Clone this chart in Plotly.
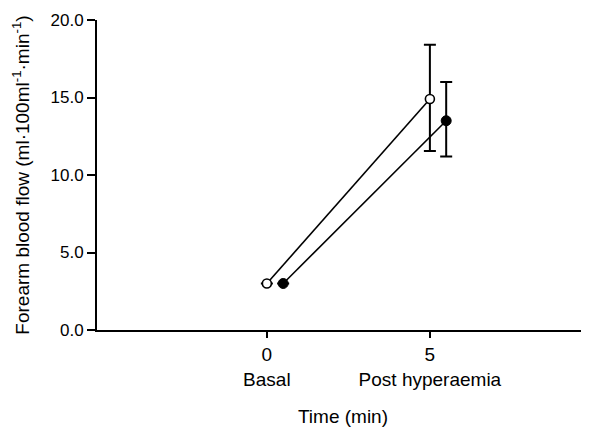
import plotly.graph_objects as go

# Data
open_x = [0, 5]
open_y = [3.0, 14.9]
open_err_plus = [0.0, 3.5]
open_err_minus = [0.0, 3.35]

filled_x = [0.5, 5.5]
filled_y = [3.0, 13.5]
filled_err_plus = [0.0, 2.5]
filled_err_minus = [0.0, 2.3]

tick_vals = [0, 5]
tick_text = ["0<br>Basal", "5<br>Post hyperaemia"]
y_ticks = [0, 5, 10, 15, 20]

FONT = "Liberation Sans, Arial, sans-serif"

fig = go.Figure()

fig.add_trace(go.Scatter(
    x=open_x, y=open_y, mode="lines+markers",
    line=dict(color="black", width=1.6),
    marker=dict(symbol="circle", size=9, color="white", line=dict(color="black", width=1.6)),
    error_y=dict(type="data", symmetric=False, array=open_err_plus, arrayminus=open_err_minus,
                 color="black", thickness=2, width=6),
    showlegend=False,
))
fig.add_trace(go.Scatter(
    x=filled_x, y=filled_y, mode="lines+markers",
    line=dict(color="black", width=1.6),
    marker=dict(symbol="circle", size=10, color="black", line=dict(color="black", width=1)),
    error_y=dict(type="data", symmetric=False, array=filled_err_plus, arrayminus=filled_err_minus,
                 color="black", thickness=2, width=6),
    showlegend=False,
))

# page body has an 8px margin; shrink the figure so plot area lands where the reference has it
fig.update_layout(
    width=581, height=419,
    margin=dict(l=89, r=0, t=12, b=94),
    paper_bgcolor="white", plot_bgcolor="white",
    font=dict(family=FONT, size=19, color="black"),
    xaxis=dict(
        range=[-5.21, 9.88], showgrid=False, zeroline=False,
        showline=True, linecolor="black", linewidth=2,
        ticks="outside", ticklen=6, tickwidth=1.5, tickcolor="black",
        tickvals=tick_vals, ticktext=tick_text, tickfont=dict(size=19),
        title=dict(text="Time (min)", font=dict(size=19), standoff=24),
    ),
    yaxis=dict(
        range=[0, 20], showgrid=False, zeroline=False,
        showline=True, linecolor="black", linewidth=2,
        ticks="outside", ticklen=8, tickwidth=1.5, tickcolor="black",
        tickvals=y_ticks, tickformat=".1f", tickfont=dict(size=17),
        title=dict(text="Forearm blood flow (ml·100ml<sup>-1</sup>·min<sup>-1</sup>)", font=dict(size=19), standoff=16),
    ),
)

fig.write_html("out.html")
